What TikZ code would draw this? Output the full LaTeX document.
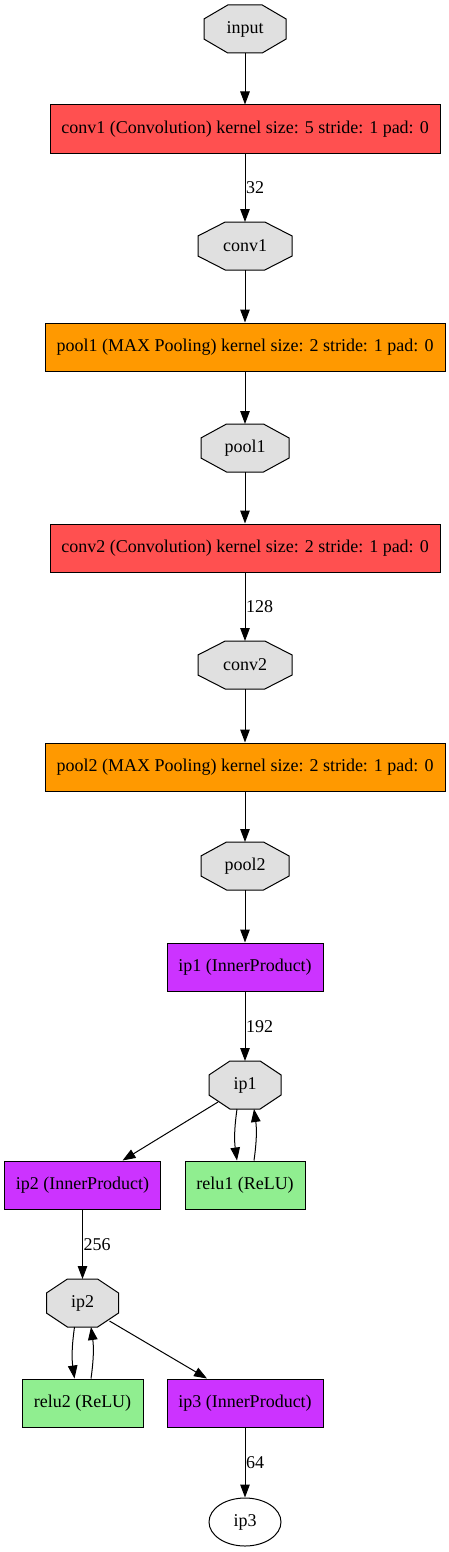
\documentclass[tikz,border=0pt]{standalone}
\usepackage{fontspec}
\setmainfont{Liberation Serif}
\usetikzlibrary{arrows.meta,shapes.geometric,calc,backgrounds}
\definecolor{convred}{HTML}{FF5050}
\definecolor{poolorange}{HTML}{FF9900}
\definecolor{ippurple}{HTML}{CC33FF}
\definecolor{relugreen}{HTML}{90EE90}
\definecolor{blobgray}{HTML}{E0E0E0}
\tikzset{
  txt/.style={font=\fontsize{18}{21}\selectfont},
  layer/.style={txt, rectangle, draw=black, line width=1pt, minimum height=48pt, inner sep=0pt},
  convbox/.style={layer, fill=convred, minimum width=390pt},
  poolbox/.style={layer, fill=poolorange, minimum width=400pt},
  ipbox/.style={layer, fill=ippurple, minimum width=156pt},
  relubox/.style={layer, fill=relugreen, minimum width=#1},
  blob/.style={txt, rectangle, inner sep=0pt, outer sep=0pt, minimum width=#1, minimum height=48pt},
  octline/.style={fill=blobgray, draw=black, line width=1pt},
  outblob/.style={txt, ellipse, draw=black, line width=1pt, minimum width=72pt, minimum height=48pt, inner sep=0pt},
  conn/.style={line width=1pt, -{Triangle[length=13pt,width=9.5pt]}},
  elabel/.style={txt, anchor=west, inner sep=0.5pt}
}
\newcommand\octo[1]{%
  \begin{pgfonlayer}{background}
  \filldraw[octline]
    ($(#1.north west)!0.29!(#1.north east)$) -- ($(#1.north west)!0.71!(#1.north east)$)
    -- ($(#1.north east)!0.29!(#1.south east)$) -- ($(#1.north east)!0.71!(#1.south east)$)
    -- ($(#1.south east)!0.29!(#1.south west)$) -- ($(#1.south east)!0.71!(#1.south west)$)
    -- ($(#1.south west)!0.29!(#1.north west)$) -- ($(#1.south west)!0.71!(#1.north west)$)
    -- cycle;
  \end{pgfonlayer}}
\begin{document}
\begin{tikzpicture}[x=1pt,y=-1pt]
\useasboundingbox (0,0) rectangle (449,1552);
\node[blob=82pt] (input) at (245,29) {input};
\node[convbox] (conv1l) at (245,129) {conv1 (Convolution) kernel size: 5 stride: 1 pad: 0};
\node[blob=94pt] (conv1) at (245,246) {conv1};
\node[poolbox] (pool1l) at (245,347) {pool1 (MAX Pooling) kernel size: 2 stride: 1 pad: 0};
\node[blob=88pt] (pool1) at (245,448) {pool1};
\node[convbox] (conv2l) at (245,548) {conv2 (Convolution) kernel size: 2 stride: 1 pad: 0};
\node[blob=94pt] (conv2) at (245,665) {conv2};
\node[poolbox] (pool2l) at (245,767) {pool2 (MAX Pooling) kernel size: 2 stride: 1 pad: 0};
\node[blob=88pt] (pool2) at (245,866) {pool2};
\node[ipbox] (ip1l) at (245,967) {ip1 (InnerProduct)};
\node[blob=72pt] (ip1) at (245,1085) {ip1};
\node[ipbox] (ip2l) at (82.5,1185) {ip2 (InnerProduct)};
\node[relubox=120pt] (relu1) at (245,1185) {relu1 (ReLU)};
\node[blob=72pt] (ip2) at (82.5,1303) {ip2};
\node[relubox=121pt] (relu2) at (82.5,1403) {relu2 (ReLU)};
\node[ipbox] (ip3l) at (245,1403) {ip3 (InnerProduct)};
\node[outblob] (ip3) at (245,1522) {ip3};
\octo{input}\octo{conv1}\octo{pool1}\octo{conv2}\octo{pool2}\octo{ip1}\octo{ip2}

\draw[conn] (input) -- (conv1l);
\draw[conn] (conv1l) -- node[elabel] {32} (conv1);
\draw[conn] (conv1) -- (pool1l);
\draw[conn] (pool1l) -- (pool1);
\draw[conn] (pool1) -- (conv2l);
\draw[conn] (conv2l) -- node[elabel] {128} (conv2);
\draw[conn] (conv2) -- (pool2l);
\draw[conn] (pool2l) -- (pool2);
\draw[conn] (pool2) -- (ip1l);
\draw[conn] (ip1l) -- node[elabel] {192} (ip1);
\draw[conn] ([shift={(-27pt,-17pt)}]ip1.center) -- ([xshift=40pt]ip2l.north);
\draw[conn] ([xshift=-8pt]ip1.south) to[bend right=8] ([xshift=-8pt]relu1.north);
\draw[conn] ([xshift=9pt]relu1.north) to[bend right=8] ([xshift=9pt]ip1.south);
\draw[conn] (ip2l) -- node[elabel] {256} (ip2);
\draw[conn] ([xshift=-8pt]ip2.south) to[bend right=8] ([xshift=-8pt]relu2.north);
\draw[conn] ([xshift=8.5pt]relu2.north) to[bend right=8] ([xshift=8.5pt]ip2.south);
\draw[conn] ([shift={(27pt,-18pt)}]ip2.center) -- ([xshift=-38pt]ip3l.north);
\draw[conn] (ip3l) -- node[elabel] {64} (ip3);
\end{tikzpicture}
\end{document}
